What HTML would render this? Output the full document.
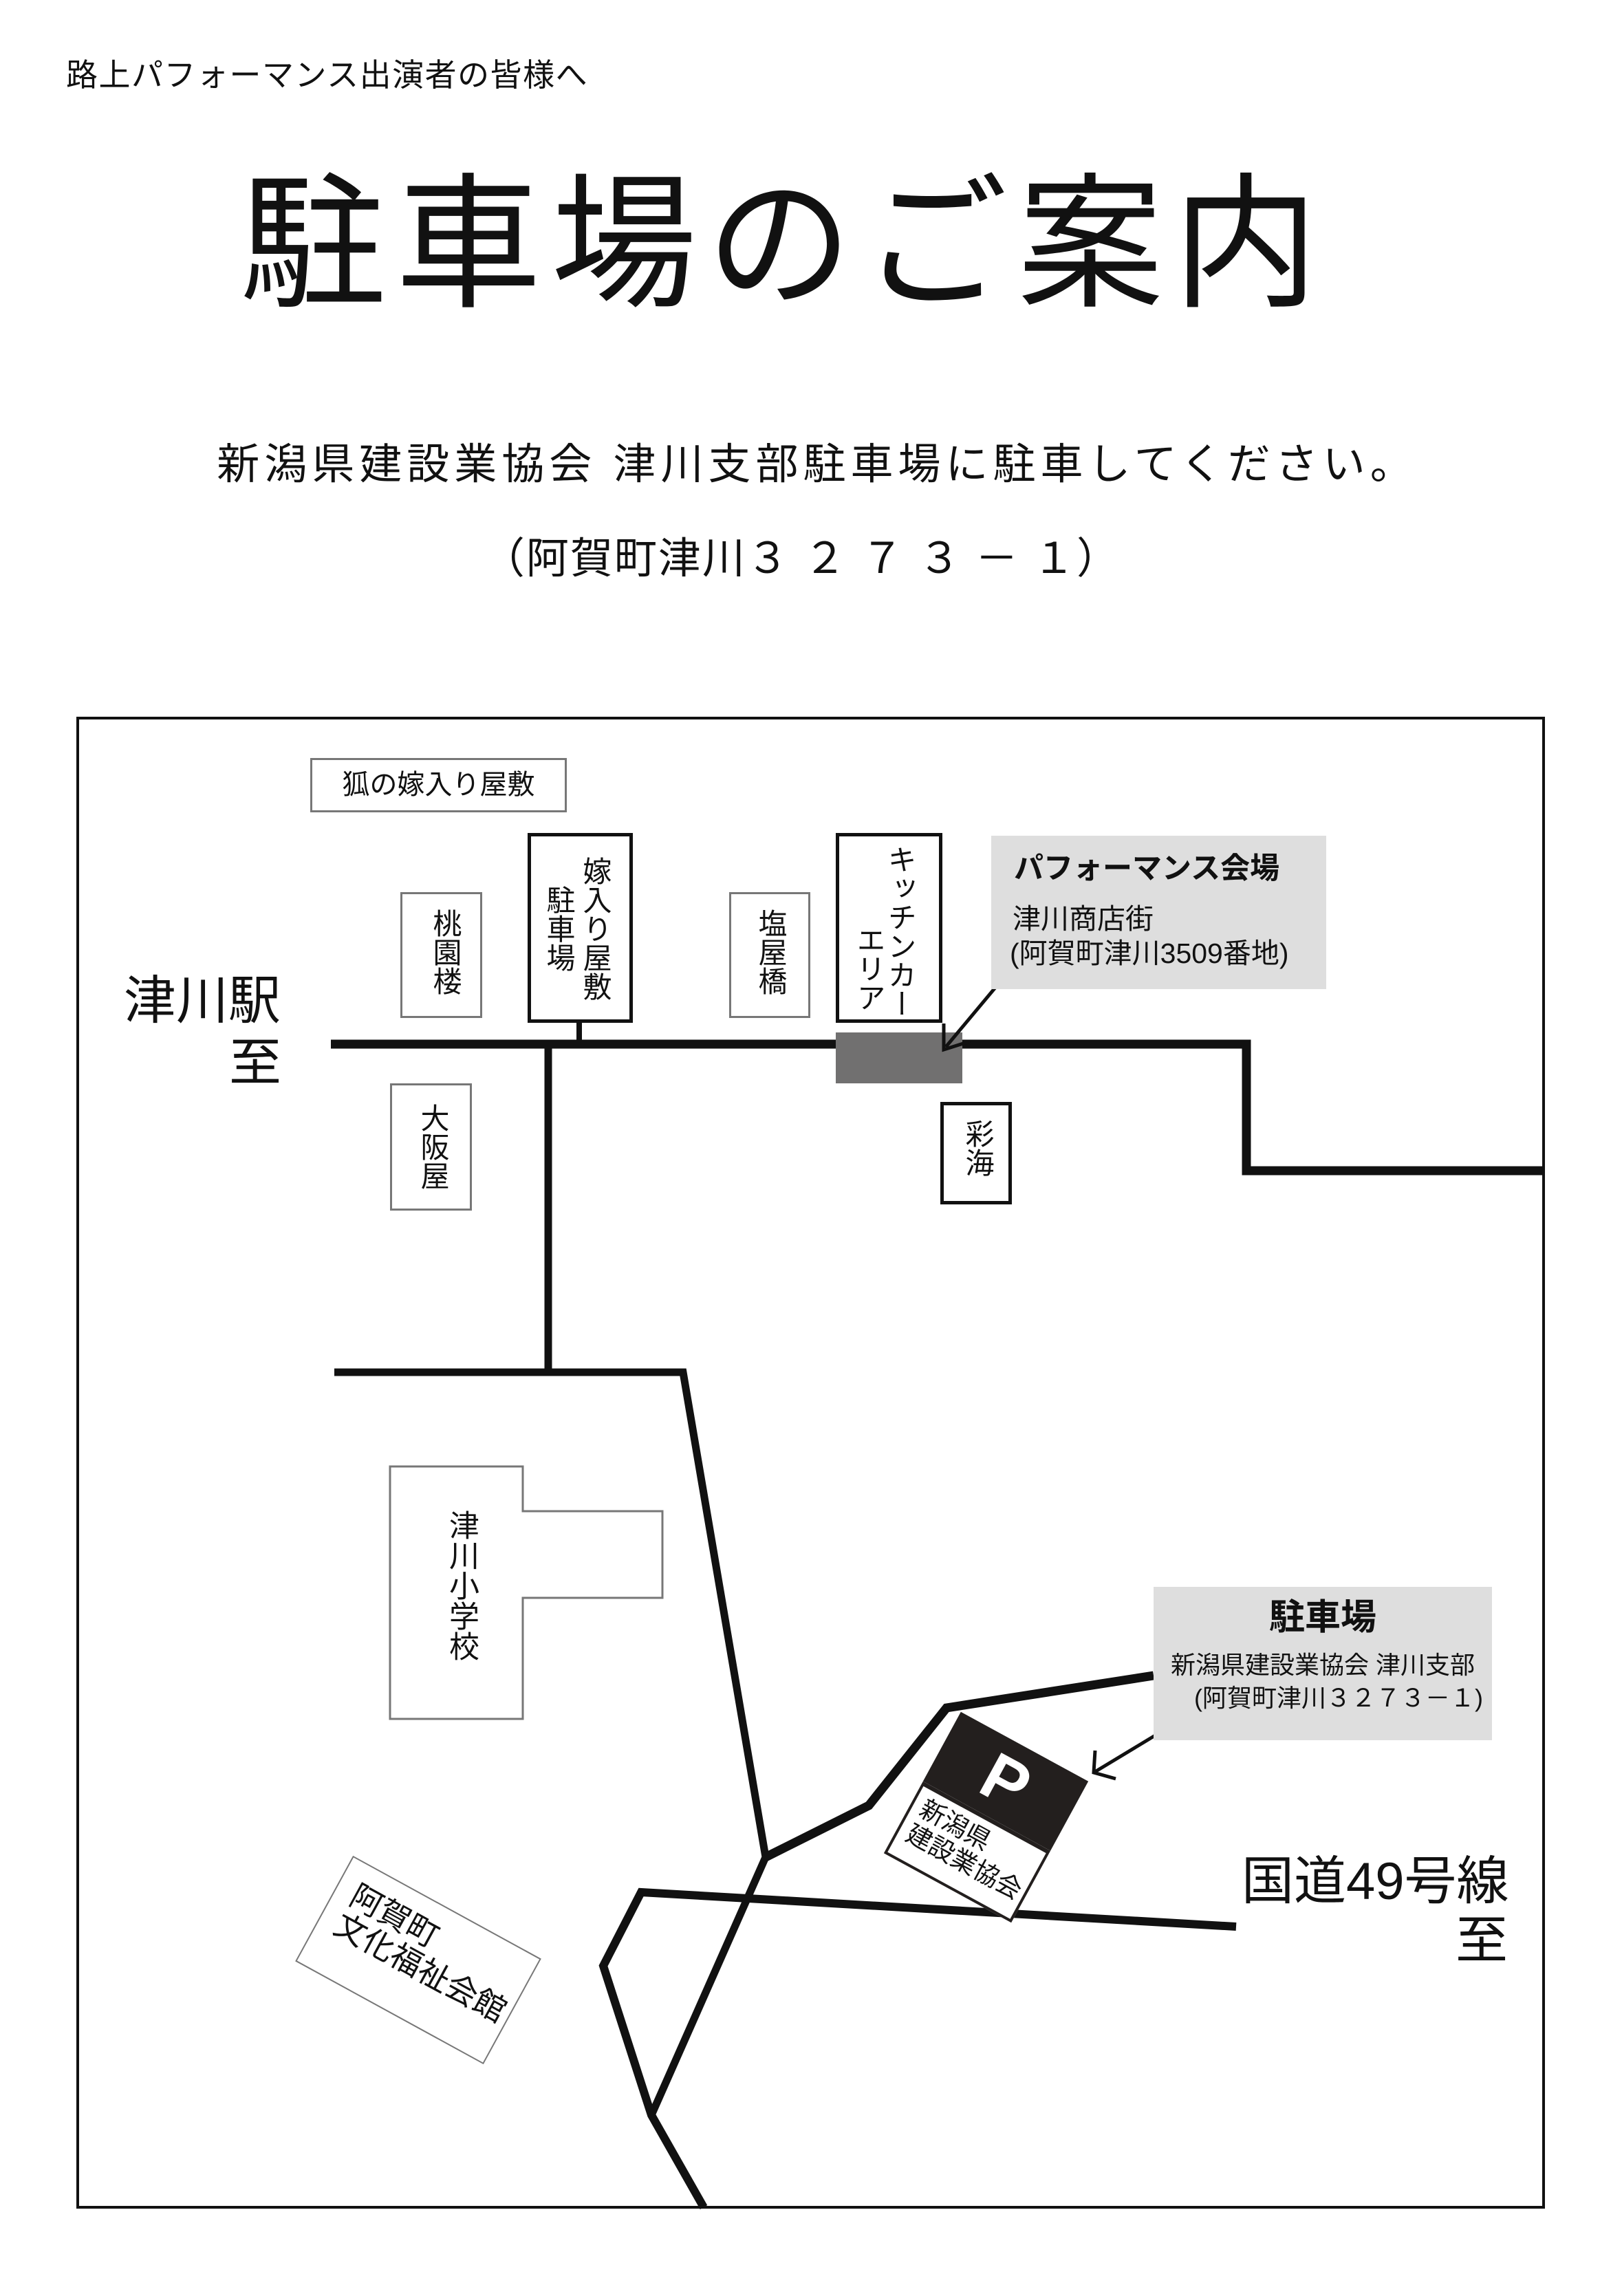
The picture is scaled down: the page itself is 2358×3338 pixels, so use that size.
<!DOCTYPE html>
<html><head><meta charset="utf-8">
<style>
html,body{margin:0;padding:0;background:#fff;}
body{width:2358px;height:3338px;position:relative;overflow:hidden;font-family:"Liberation Sans","Noto Sans CJK JP",sans-serif;color:#111;}
.a{position:absolute;white-space:nowrap;line-height:1;}
.box{position:absolute;box-sizing:border-box;background:#fff;}
.g{border:3px solid #777;}
.k{border:5px solid #111;}
.v{position:absolute;writing-mode:vertical-rl;font-size:42px;line-height:1;white-space:nowrap;}
svg{position:absolute;left:0;top:0;}
</style></head><body>
<div class="a" style="left:96px;top:86px;font-size:46px;letter-spacing:1.5px;">路上パフォーマンス出演者の皆様へ</div>
<div class="a" style="left:0;width:2280px;text-align:center;top:250px;font-size:212px;letter-spacing:14px;">駐車場のご案内</div>
<div class="a" style="left:0;width:2376px;text-align:center;top:645px;font-size:62px;letter-spacing:7px;">新潟県建設業協会 津川支部駐車場に駐車してください。</div>
<div class="a" style="left:0;width:2330px;text-align:center;top:782px;font-size:62px;letter-spacing:2px;">（阿賀町津川３ ２ ７ ３ － １）</div>

<svg width="2358" height="3338" viewBox="0 0 2358 3338">
<rect x="113" y="1044" width="2131" height="2165" fill="none" stroke="#111" stroke-width="4"/>
<g stroke="#111" fill="none" stroke-linejoin="miter">
<polyline points="481,1518 1812,1518 1812,1702 2244,1702" stroke-width="13"/>
<line x1="842" y1="1487" x2="842" y2="1518" stroke-width="8"/>
<line x1="797" y1="1518" x2="797" y2="1995" stroke-width="11"/>
<polyline points="486,1995 993,1995 1113,2700 947,3075" stroke-width="11"/>
<polyline points="1113,2700 1263,2625 1376,2483 1677,2436" stroke-width="13"/>
<polyline points="1797,2801 932,2751 877,2858 947,3075 1023,3209" stroke-width="12"/>
</g>
<rect x="1215" y="1501" width="184" height="74" fill="#717070"/>
<g stroke="#111" stroke-width="5" fill="none">
<line x1="1466" y1="1413" x2="1375" y2="1522"/>
<polyline points="1372,1488 1372,1526 1410,1514"/>
<line x1="1681" y1="2522" x2="1590" y2="2577"/>
<polyline points="1592,2545 1590,2577 1622,2586"/>
</g>
<path d="M567,2132 H760 V2197 H963 V2323 H760 V2499 H567 Z" fill="#fff" stroke="#777" stroke-width="3"/>
</svg>

<div class="box g" style="left:451px;top:1102px;width:373px;height:79px;"></div>
<div class="a" style="left:451px;width:373px;text-align:center;top:1121px;font-size:40px;">狐の嫁入り屋敷</div>

<div class="box g" style="left:582px;top:1297px;width:119px;height:183px;"></div>
<div class="v" style="left:626px;top:1321px;">桃園楼</div>
<div class="box g" style="left:1060px;top:1297px;width:118px;height:183px;"></div>
<div class="v" style="left:1099px;top:1321px;">塩屋橋</div>
<div class="box k" style="left:767px;top:1211px;width:153px;height:276px;"></div>
<div class="v" style="left:844px;top:1245px;">嫁入り屋敷</div>
<div class="v" style="left:791px;top:1287px;">駐車場</div>
<div class="box k" style="left:1215px;top:1211px;width:155px;height:276px;"></div>
<div class="v" style="left:1287px;top:1228px;">キッチンカー</div>
<div class="v" style="left:1242px;top:1345px;">エリア</div>
<div class="box g" style="left:567px;top:1575px;width:119px;height:185px;"></div>
<div class="v" style="left:608px;top:1604px;">大阪屋</div>
<div class="box k" style="left:1367px;top:1602px;width:104px;height:149px;"></div>
<div class="v" style="left:1400px;top:1627px;">彩海</div>

<div class="a" style="left:180px;top:1418px;font-size:76px;">津川駅</div>
<div class="a" style="left:333px;top:1508px;font-size:76px;">至</div>

<div class="box" style="left:1441px;top:1215px;width:487px;height:223px;background:#dedede;"></div>
<div class="a" style="left:1474px;top:1242px;font-size:43px;font-weight:bold;">パフォーマンス会場</div>
<div class="a" style="left:1472px;top:1316px;font-size:41px;">津川商店街</div>
<div class="a" style="left:1468px;top:1366px;font-size:41px;">(阿賀町津川3509番地)</div>

<div class="v" style="left:648px;top:2195px;font-size:44px;">津川小学校</div>

<div class="box" style="left:1677px;top:2307px;width:492px;height:223px;background:#dedede;"></div>
<div class="a" style="left:1677px;width:492px;text-align:center;top:2326px;font-size:52px;font-weight:bold;">駐車場</div>
<div class="a" style="left:1677px;width:492px;text-align:center;top:2403px;font-size:36px;">新潟県建設業協会 津川支部</div>
<div class="a" style="left:1700px;width:492px;text-align:center;top:2451px;font-size:36px;">(阿賀町津川３２７３－１)</div>

<div style="position:absolute;left:1328px;top:2525px;width:211px;height:234px;transform:rotate(28.6deg);">
 <div style="position:absolute;left:0;top:0;width:211px;height:115px;background:#231f1e;color:#fff;font-size:96px;font-weight:bold;text-align:center;line-height:115px;">P</div>
 <div style="position:absolute;left:0;top:115px;width:211px;height:119px;box-sizing:border-box;border:4px solid #231f1e;border-top-width:6px;background:#fff;font-size:37px;line-height:1.1;padding:8px 0 0 12px;">新潟県<br>建設業協会</div>
</div>

<div style="position:absolute;left:452px;top:2762px;width:312px;height:175px;box-sizing:border-box;border:2px solid #777;transform:rotate(28.7deg);background:#fff;font-size:46px;line-height:1.05;padding:22px 0 0 24px;">阿賀町<br>文化福祉会館</div>

<div class="a" style="left:1805px;top:2698px;font-size:76px;">国道49号線</div>
<div class="a" style="left:2116px;top:2784px;font-size:76px;">至</div>
</body></html>
